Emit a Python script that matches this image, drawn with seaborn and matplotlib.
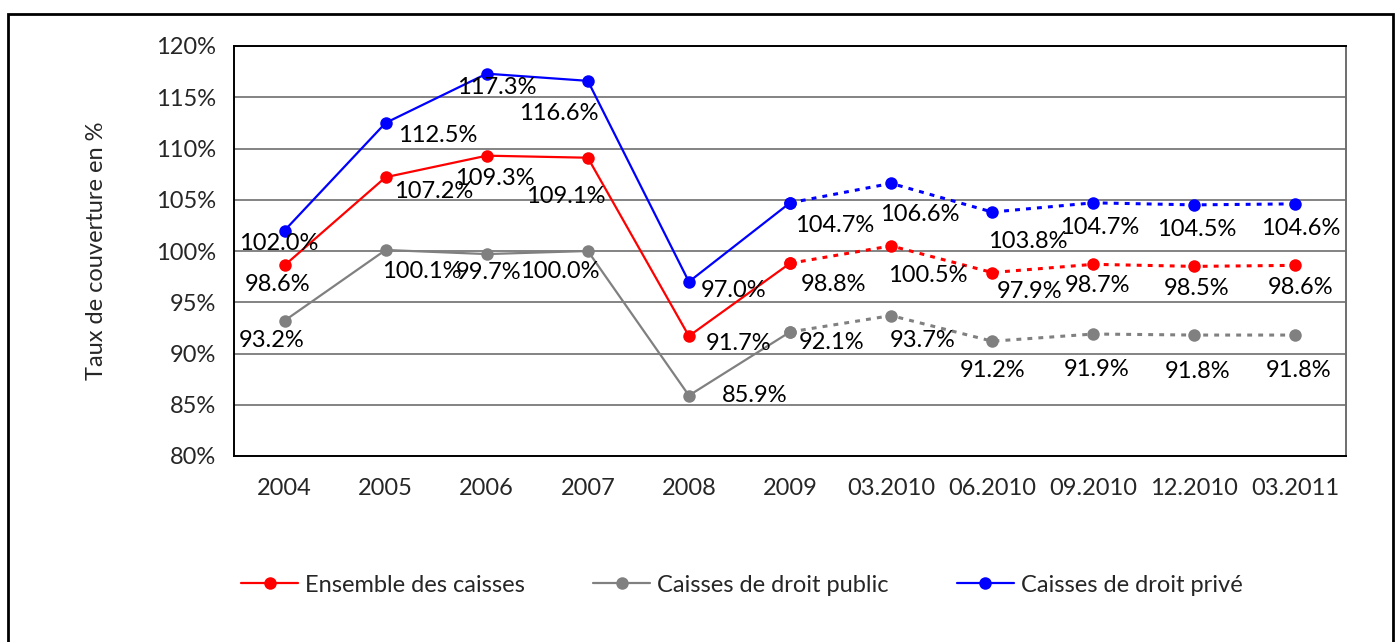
import matplotlib
matplotlib.use("Agg")
import seaborn as sns
import pandas as pd
from matplotlib import pyplot as plt
from matplotlib.patches import Rectangle

categories = ["2004", "2005", "2006", "2007", "2008", "2009",
              "03.2010", "06.2010", "09.2010", "12.2010", "03.2011"]
ensemble = [98.6, 107.2, 109.3, 109.1, 91.7, 98.8, 100.5, 97.9, 98.7, 98.5, 98.6]
public = [93.2, 100.1, 99.7, 100.0, 85.9, 92.1, 93.7, 91.2, 91.9, 91.8, 91.8]
prive = [102.0, 112.5, 117.3, 116.6, 97.0, 104.7, 106.6, 103.8, 104.7, 104.5, 104.6]

series_names = ["Ensemble des caisses", "Caisses de droit public", "Caisses de droit privé"]
colors = ["#FF0000", "#808080", "#0000FF"]

# label offsets in pixels (dx, dy below the point), hand-placed like the original
offsets = {
    "Ensemble des caisses": [(-7, 19), (48, 14), (8, 23), (-22, 39), (50, 7), (43, 21),
                             (37, 30), (37, 19), (4, 21), (2, 22), (5, 22)],
    "Caisses de droit public": [(-13, 20), (36, 22), (2, 18), (-28, 20), (66, 0), (42, 11),
                                (32, 25), (0, 29), (3, 35), (3, 36), (3, 35)],
    "Caisses de droit privé": [(-6, 13), (52, 13), (10, 14), (-29, 33), (45, 9), (45, 23),
                               (29, 31), (36, 29), (6, 25), (2, 25), (5, 25)],
}

n_solid = 6  # 2004..2009 solid, then dotted

sns.set_theme(style="white")
plt.rcParams['font.family'] = ['Lato', 'DejaVu Sans']
FS = 17

fig = plt.figure(figsize=(13.97, 6.42), dpi=100)
ax = fig.add_axes([234 / 1397, 1 - 456 / 642, (1346 - 234) / 1397, (456 - 46) / 642])

for name, vals, col in zip(series_names, [ensemble, public, prive], colors):
    df = pd.DataFrame({"x": range(len(categories)), "y": vals})
    solid = df.iloc[:n_solid]
    dotted = df.iloc[n_solid - 1:]
    sns.lineplot(data=solid, x="x", y="y", ax=ax, color=col, lw=1.6,
                 marker="o", markersize=9, markeredgewidth=0, label=name)
    sns.lineplot(data=dotted, x="x", y="y", ax=ax, color=col, lw=2.2,
                 linestyle=(0, (1.6, 2.0)), marker="o", markersize=9,
                 markeredgewidth=0, legend=False)
    for i, v in enumerate(vals):
        dx, dy = offsets[name][i]
        ax.annotate(f"{v:.1f}%", (i, v), xytext=(dx * 0.72, -dy * 0.72),
                    textcoords="offset points", ha="center", va="center",
                    fontsize=FS, color="black")

ax.set_xlim(-0.5, len(categories) - 0.5)
ax.set_ylim(80, 120)
ax.set_yticks(range(80, 121, 5))
ax.set_yticklabels([f"{t}%" for t in range(80, 121, 5)], fontsize=FS)
ax.set_xticks(range(len(categories)))
ax.set_xticklabels(categories, fontsize=FS)
ax.tick_params(axis="y", length=0, pad=13)
ax.tick_params(axis="x", length=0, pad=16)
ax.yaxis.grid(True, color="#6e6e6e", lw=1.2)
ax.set_axisbelow(True)
ax.set_xlabel("")
ax.set_ylabel("Taux de couverture en %", fontsize=FS, labelpad=35)

for side in ["left", "bottom", "top"]:
    ax.spines[side].set_color("black")
    ax.spines[side].set_linewidth(1.4)
ax.spines["right"].set_color("#6e6e6e")
ax.spines["right"].set_linewidth(1.4)

ax.legend(loc="center", bbox_to_anchor=(742 / 1397, 1 - 585 / 642),
          bbox_transform=fig.transFigure, ncol=3, frameon=False, fontsize=FS,
          handlelength=2.4, handletextpad=0.3, columnspacing=2.9)

fig.patches.append(Rectangle((8 / 1397, -0.01), (1393 - 8) / 1397, 1 - 14 / 642 + 0.01,
                             transform=fig.transFigure, fill=False,
                             edgecolor="black", lw=2, zorder=10))

fig.savefig("out.png", dpi=100)
